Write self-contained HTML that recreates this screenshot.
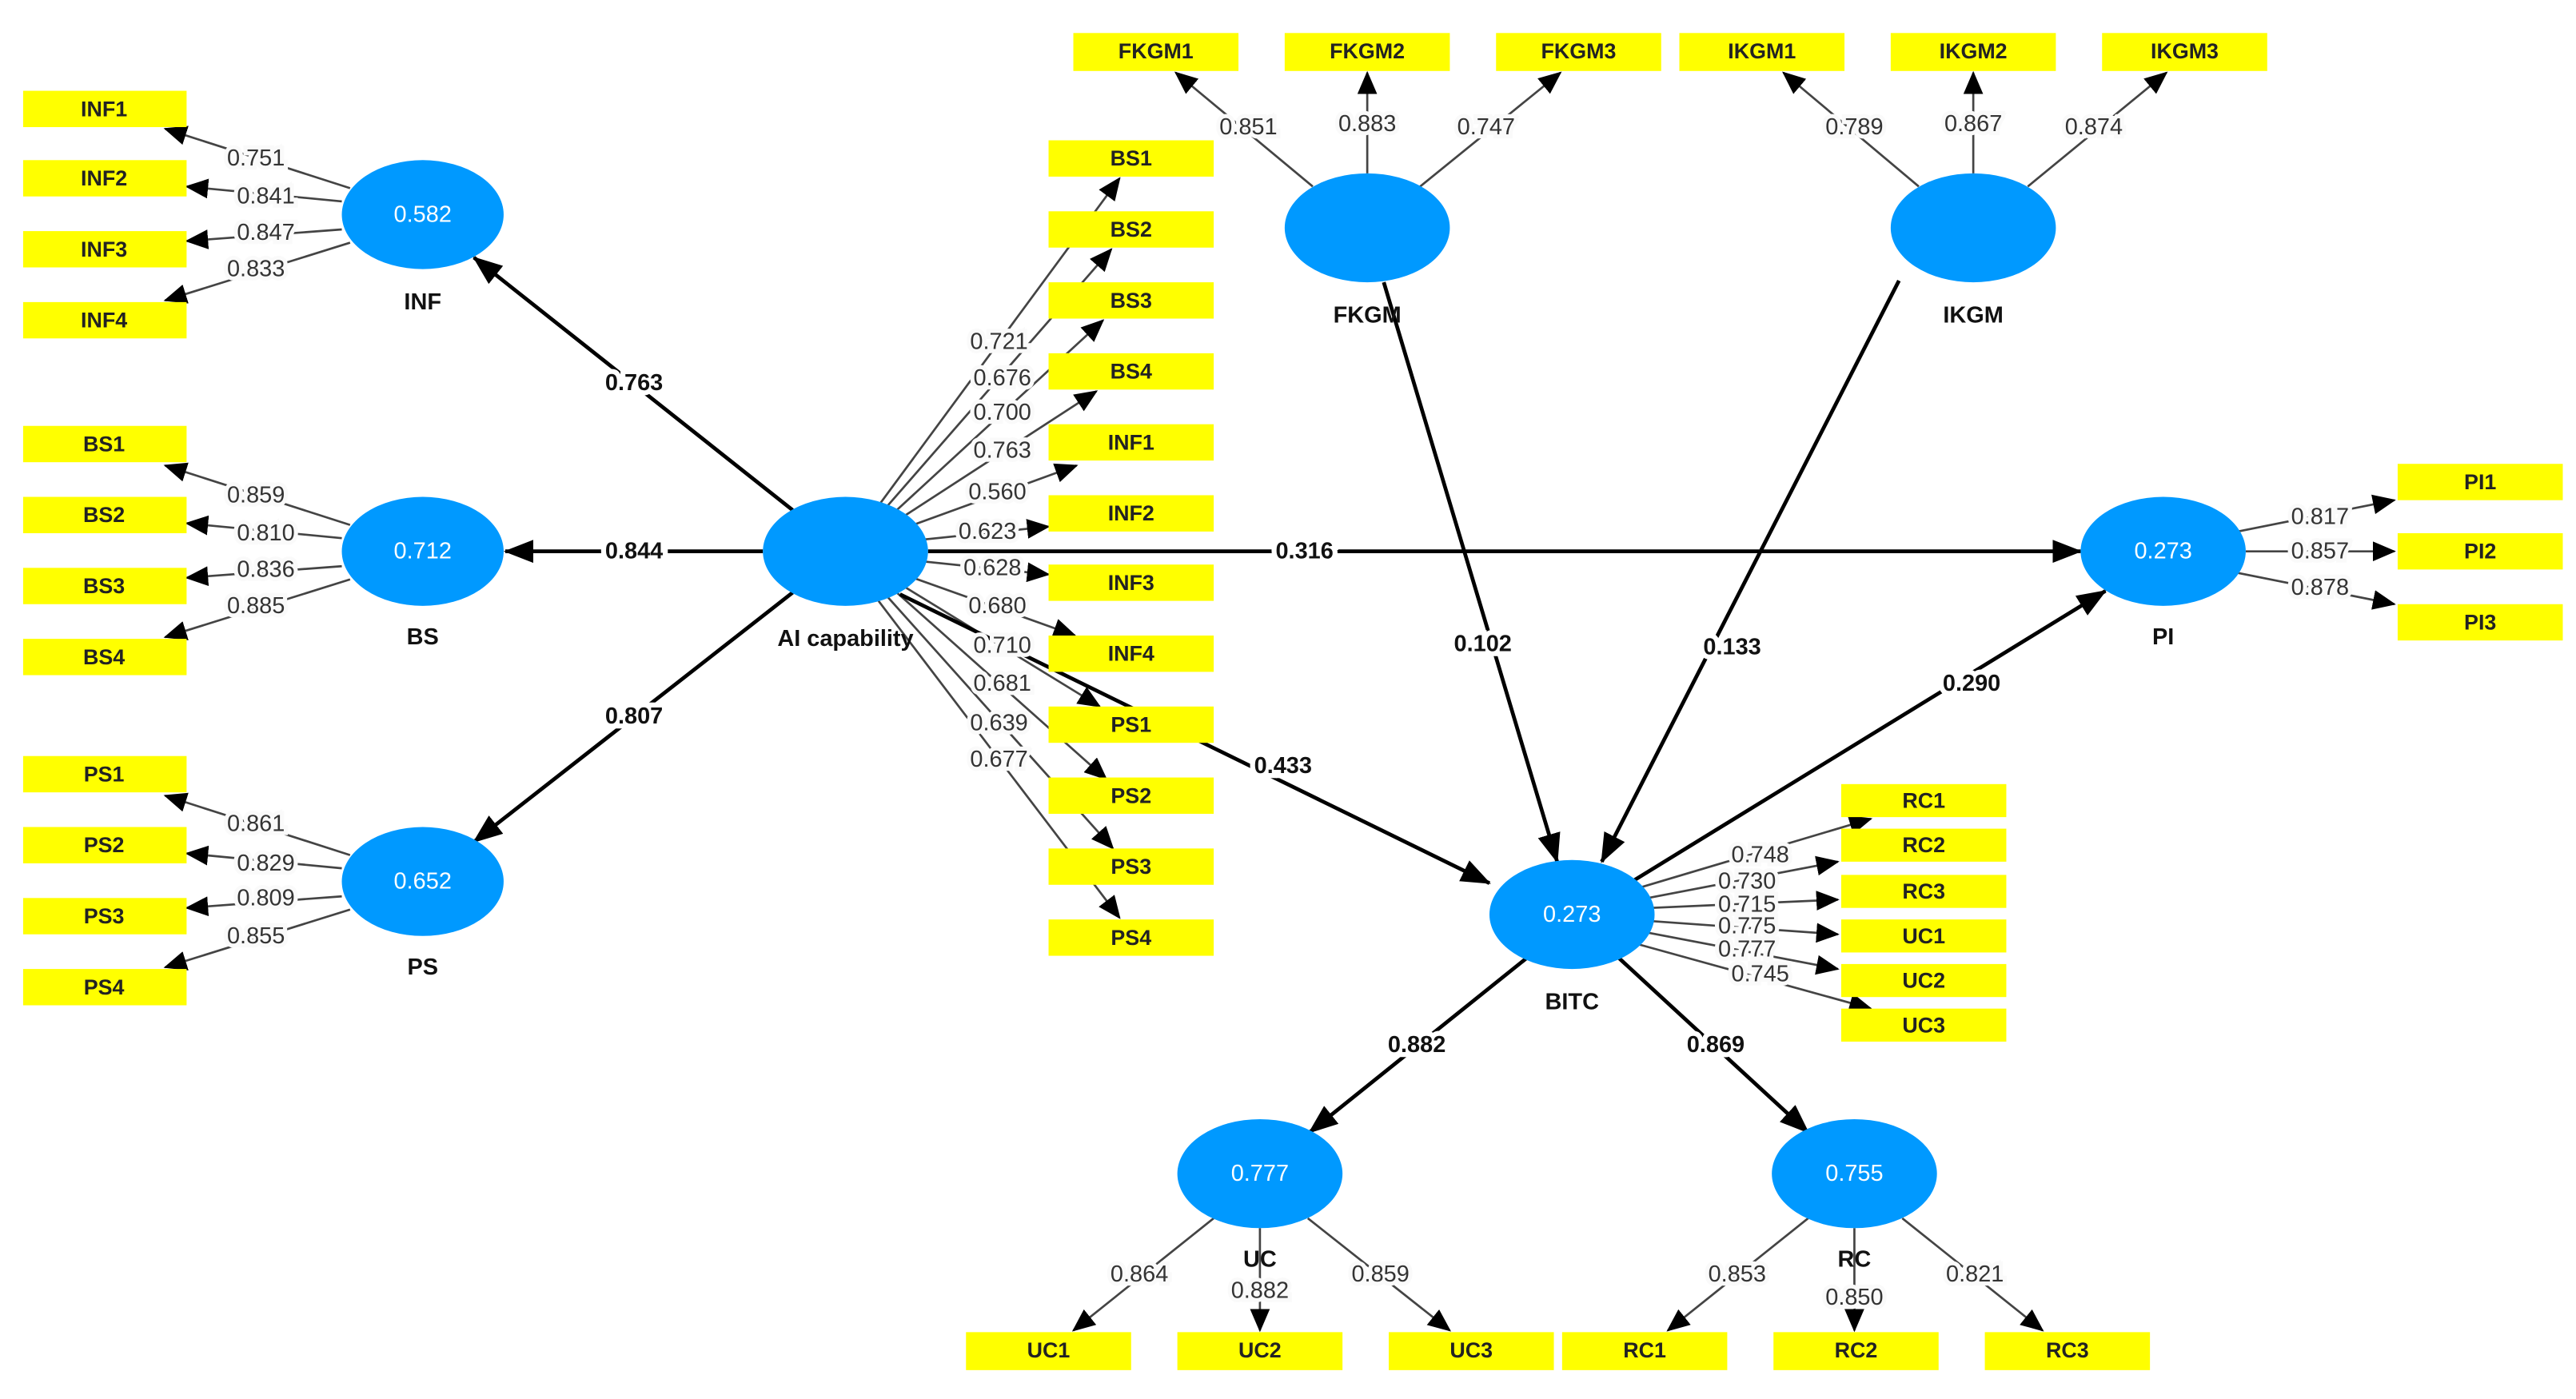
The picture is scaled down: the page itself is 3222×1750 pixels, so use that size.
<!DOCTYPE html>
<html><head><meta charset="utf-8"><style>
html,body{margin:0;padding:0;background:#fff;width:3222px;height:1750px;overflow:hidden}
svg{display:block}
.b{fill:#ffff00}
.bt{font:bold 13px "Liberation Sans",sans-serif;fill:#222;text-anchor:middle;dominant-baseline:central}
.c{fill:#0099ff}
.ct{font:14px "Liberation Sans",sans-serif;fill:#fff;text-anchor:middle;dominant-baseline:central}
.lt{font:bold 14px "Liberation Sans",sans-serif;fill:#111;text-anchor:middle;dominant-baseline:central}
.t{stroke:#444;stroke-width:1.3;fill:none}
.s{stroke:#000;stroke-width:2.3;fill:none}
.lw{font:14px "Liberation Sans",sans-serif;fill:#333;text-anchor:middle;dominant-baseline:central;paint-order:stroke;stroke:#fafafa;stroke-width:5px}
.ls{font:bold 14px "Liberation Sans",sans-serif;fill:#111;text-anchor:middle;dominant-baseline:central;paint-order:stroke;stroke:#fff;stroke-width:6px}
</style></head><body>
<svg width="3222" height="1750" viewBox="0 0 1560 847.5" preserveAspectRatio="none" xmlns="http://www.w3.org/2000/svg">
<defs>
<marker id="a" markerUnits="userSpaceOnUse" markerWidth="14" markerHeight="12" refX="13" refY="6" orient="auto"><path d="M0,0 L14,6 L0,12 z" fill="#000"/></marker>
<marker id="A" markerUnits="userSpaceOnUse" markerWidth="18" markerHeight="14" refX="17" refY="7" orient="auto"><path d="M0,0 L18,7 L0,14 z" fill="#000"/></marker>
</defs>
<g class="t" marker-end="url(#a)">
<line x1="212" y1="114" x2="100" y2="78"/><line x1="207" y1="122" x2="113" y2="113"/><line x1="207" y1="139" x2="113" y2="146"/><line x1="212" y1="147" x2="100" y2="182"/>
<line x1="212" y1="318" x2="100" y2="282"/><line x1="207" y1="326" x2="113" y2="317"/><line x1="207" y1="343" x2="113" y2="350"/><line x1="212" y1="351" x2="100" y2="386"/>
<line x1="212" y1="518" x2="100" y2="482"/><line x1="207" y1="526" x2="113" y2="517"/><line x1="207" y1="543" x2="113" y2="550"/><line x1="212" y1="551" x2="100" y2="586"/>
<line x1="533" y1="305" x2="678" y2="108"/><line x1="537" y1="307" x2="673" y2="151"/><line x1="542" y1="310" x2="668" y2="194"/><line x1="547" y1="313" x2="664" y2="237"/>
<line x1="553" y1="318" x2="652" y2="282"/><line x1="558" y1="327" x2="635" y2="319"/><line x1="558" y1="340" x2="635" y2="348"/><line x1="553" y1="350" x2="651" y2="385"/>
<line x1="547" y1="355" x2="666" y2="428"/><line x1="542" y1="358" x2="670" y2="472"/><line x1="537" y1="361" x2="674" y2="514"/><line x1="532" y1="364" x2="678" y2="556"/>
<line x1="795" y1="113" x2="712" y2="44"/><line x1="828" y1="105" x2="828" y2="44"/><line x1="860" y1="113" x2="945" y2="44"/>
<line x1="1162" y1="113" x2="1080" y2="44"/><line x1="1195" y1="105" x2="1195" y2="44"/><line x1="1228" y1="113" x2="1312" y2="44"/>
<line x1="1355" y1="322" x2="1450" y2="303"/><line x1="1360" y1="334" x2="1450" y2="334"/><line x1="1355" y1="347" x2="1450" y2="366"/>
<line x1="992" y1="538" x2="1133" y2="496"/><line x1="998" y1="544" x2="1113" y2="522"/><line x1="1000" y1="550" x2="1113" y2="545"/><line x1="1000" y1="558" x2="1113" y2="566"/><line x1="998" y1="565" x2="1113" y2="587"/><line x1="992" y1="572" x2="1133" y2="611"/>
<line x1="735" y1="738" x2="650" y2="806"/><line x1="763" y1="744" x2="763" y2="806"/><line x1="792" y1="738" x2="878" y2="806"/>
<line x1="1095" y1="738" x2="1010" y2="806"/><line x1="1123" y1="744" x2="1123" y2="806"/><line x1="1152" y1="738" x2="1237" y2="806"/>
</g>
<g class="s" marker-end="url(#A)">
<line x1="480" y1="309" x2="287" y2="156"/><line x1="462" y1="334" x2="306" y2="334"/><line x1="480" y1="359" x2="287" y2="510"/>
<line x1="562" y1="334" x2="1260" y2="334"/><line x1="838" y1="171" x2="943" y2="522"/><line x1="1150" y1="170" x2="970" y2="522"/>
<line x1="990" y1="533" x2="1275" y2="358"/><line x1="545" y1="360" x2="902" y2="535"/><line x1="925" y1="580" x2="793" y2="686"/><line x1="980" y1="580" x2="1095" y2="686"/>
</g>
<g>
<rect class="b" x="14" y="55" width="99" height="22"/><text class="bt" x="63" y="66">INF1</text>
<rect class="b" x="14" y="97" width="99" height="22"/><text class="bt" x="63" y="108">INF2</text>
<rect class="b" x="14" y="140" width="99" height="22"/><text class="bt" x="63" y="151">INF3</text>
<rect class="b" x="14" y="183" width="99" height="22"/><text class="bt" x="63" y="194">INF4</text>
<rect class="b" x="14" y="258" width="99" height="22"/><text class="bt" x="63" y="269">BS1</text>
<rect class="b" x="14" y="301" width="99" height="22"/><text class="bt" x="63" y="312">BS2</text>
<rect class="b" x="14" y="344" width="99" height="22"/><text class="bt" x="63" y="355">BS3</text>
<rect class="b" x="14" y="387" width="99" height="22"/><text class="bt" x="63" y="398">BS4</text>
<rect class="b" x="14" y="458" width="99" height="22"/><text class="bt" x="63" y="469">PS1</text>
<rect class="b" x="14" y="501" width="99" height="22"/><text class="bt" x="63" y="512">PS2</text>
<rect class="b" x="14" y="544" width="99" height="22"/><text class="bt" x="63" y="555">PS3</text>
<rect class="b" x="14" y="587" width="99" height="22"/><text class="bt" x="63" y="598">PS4</text>
<rect class="b" x="635" y="85" width="100" height="22"/><text class="bt" x="685" y="96">BS1</text>
<rect class="b" x="635" y="128" width="100" height="22"/><text class="bt" x="685" y="139">BS2</text>
<rect class="b" x="635" y="171" width="100" height="22"/><text class="bt" x="685" y="182">BS3</text>
<rect class="b" x="635" y="214" width="100" height="22"/><text class="bt" x="685" y="225">BS4</text>
<rect class="b" x="635" y="257" width="100" height="22"/><text class="bt" x="685" y="268">INF1</text>
<rect class="b" x="635" y="300" width="100" height="22"/><text class="bt" x="685" y="311">INF2</text>
<rect class="b" x="635" y="342" width="100" height="22"/><text class="bt" x="685" y="353">INF3</text>
<rect class="b" x="635" y="385" width="100" height="22"/><text class="bt" x="685" y="396">INF4</text>
<rect class="b" x="635" y="428" width="100" height="22"/><text class="bt" x="685" y="439">PS1</text>
<rect class="b" x="635" y="471" width="100" height="22"/><text class="bt" x="685" y="482">PS2</text>
<rect class="b" x="635" y="514" width="100" height="22"/><text class="bt" x="685" y="525">PS3</text>
<rect class="b" x="635" y="557" width="100" height="22"/><text class="bt" x="685" y="568">PS4</text>
<rect class="b" x="650" y="20" width="100" height="23"/><text class="bt" x="700" y="31">FKGM1</text>
<rect class="b" x="778" y="20" width="100" height="23"/><text class="bt" x="828" y="31">FKGM2</text>
<rect class="b" x="906" y="20" width="100" height="23"/><text class="bt" x="956" y="31">FKGM3</text>
<rect class="b" x="1017" y="20" width="100" height="23"/><text class="bt" x="1067" y="31">IKGM1</text>
<rect class="b" x="1145" y="20" width="100" height="23"/><text class="bt" x="1195" y="31">IKGM2</text>
<rect class="b" x="1273" y="20" width="100" height="23"/><text class="bt" x="1323" y="31">IKGM3</text>
<rect class="b" x="1452" y="281" width="100" height="22"/><text class="bt" x="1502" y="292">PI1</text>
<rect class="b" x="1452" y="323" width="100" height="22"/><text class="bt" x="1502" y="334">PI2</text>
<rect class="b" x="1452" y="366" width="100" height="22"/><text class="bt" x="1502" y="377">PI3</text>
<rect class="b" x="1115" y="475" width="100" height="20"/><text class="bt" x="1165" y="485">RC1</text>
<rect class="b" x="1115" y="502" width="100" height="20"/><text class="bt" x="1165" y="512">RC2</text>
<rect class="b" x="1115" y="530" width="100" height="20"/><text class="bt" x="1165" y="540">RC3</text>
<rect class="b" x="1115" y="557" width="100" height="20"/><text class="bt" x="1165" y="567">UC1</text>
<rect class="b" x="1115" y="584" width="100" height="20"/><text class="bt" x="1165" y="594">UC2</text>
<rect class="b" x="1115" y="611" width="100" height="20"/><text class="bt" x="1165" y="621">UC3</text>
<rect class="b" x="585" y="807" width="100" height="23"/><text class="bt" x="635" y="818">UC1</text>
<rect class="b" x="713" y="807" width="100" height="23"/><text class="bt" x="763" y="818">UC2</text>
<rect class="b" x="841" y="807" width="100" height="23"/><text class="bt" x="891" y="818">UC3</text>
<rect class="b" x="946" y="807" width="100" height="23"/><text class="bt" x="996" y="818">RC1</text>
<rect class="b" x="1074" y="807" width="100" height="23"/><text class="bt" x="1124" y="818">RC2</text>
<rect class="b" x="1202" y="807" width="100" height="23"/><text class="bt" x="1252" y="818">RC3</text>
</g>
<g>
<ellipse class="c" cx="256" cy="130" rx="49" ry="33"/><text class="ct" x="256" y="130">0.582</text><text class="lt" x="256" y="183">INF</text>
<ellipse class="c" cx="256" cy="334" rx="49" ry="33"/><text class="ct" x="256" y="334">0.712</text><text class="lt" x="256" y="386">BS</text>
<ellipse class="c" cx="256" cy="534" rx="49" ry="33"/><text class="ct" x="256" y="534">0.652</text><text class="lt" x="256" y="586">PS</text>
<ellipse class="c" cx="512" cy="334" rx="50" ry="33"/><text class="lt" x="512" y="387">AI capability</text>
<ellipse class="c" cx="828" cy="138" rx="50" ry="33"/><text class="lt" x="828" y="191">FKGM</text>
<ellipse class="c" cx="1195" cy="138" rx="50" ry="33"/><text class="lt" x="1195" y="191">IKGM</text>
<ellipse class="c" cx="1310" cy="334" rx="50" ry="33"/><text class="ct" x="1310" y="334">0.273</text><text class="lt" x="1310" y="386">PI</text>
<ellipse class="c" cx="952" cy="554" rx="50" ry="33"/><text class="ct" x="952" y="554">0.273</text><text class="lt" x="952" y="607">BITC</text>
<ellipse class="c" cx="763" cy="711" rx="50" ry="33"/><text class="ct" x="763" y="711">0.777</text><text class="lt" x="763" y="763">UC</text>
<ellipse class="c" cx="1123" cy="711" rx="50" ry="33"/><text class="ct" x="1123" y="711">0.755</text><text class="lt" x="1123" y="763">RC</text>
</g>
<g class="ls">
<text x="384" y="232">0.763</text><text x="384" y="334">0.844</text><text x="384" y="434">0.807</text>
<text x="790" y="334">0.316</text><text x="898" y="390">0.102</text><text x="1049" y="392">0.133</text>
<text x="1194" y="414">0.290</text><text x="777" y="464">0.433</text><text x="858" y="633">0.882</text><text x="1039" y="633">0.869</text>
</g>
<g class="lw">
<text x="155" y="96">0.751</text><text x="161" y="119">0.841</text><text x="161" y="141">0.847</text><text x="155" y="163">0.833</text>
<text x="155" y="300">0.859</text><text x="161" y="323">0.810</text><text x="161" y="345">0.836</text><text x="155" y="367">0.885</text>
<text x="155" y="499">0.861</text><text x="161" y="523">0.829</text><text x="161" y="544">0.809</text><text x="155" y="567">0.855</text>
<text x="605" y="207">0.721</text><text x="607" y="229">0.676</text><text x="607" y="250">0.700</text><text x="607" y="273">0.763</text>
<text x="604" y="298">0.560</text><text x="598" y="322">0.623</text><text x="601" y="344">0.628</text><text x="604" y="367">0.680</text>
<text x="607" y="391">0.710</text><text x="607" y="414">0.681</text><text x="605" y="438">0.639</text><text x="605" y="460">0.677</text>
<text x="756" y="77">0.851</text><text x="828" y="75">0.883</text><text x="900" y="77">0.747</text>
<text x="1123" y="77">0.789</text><text x="1195" y="75">0.867</text><text x="1268" y="77">0.874</text>
<text x="1405" y="313">0.817</text><text x="1405" y="334">0.857</text><text x="1405" y="356">0.878</text>
<text x="1066" y="518">0.748</text><text x="1058" y="534">0.730</text><text x="1058" y="548">0.715</text><text x="1058" y="561">0.775</text><text x="1058" y="575">0.777</text><text x="1066" y="590">0.745</text>
<text x="690" y="772">0.864</text><text x="763" y="782">0.882</text><text x="836" y="772">0.859</text>
<text x="1052" y="772">0.853</text><text x="1123" y="786">0.850</text><text x="1196" y="772">0.821</text>
</g>
</svg>
</body></html>
